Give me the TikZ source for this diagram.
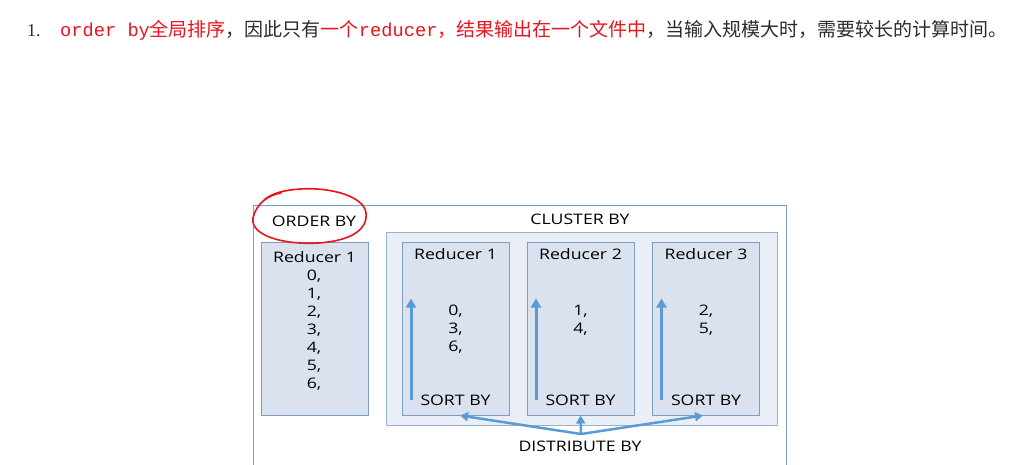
\documentclass[tikz,border=0pt]{standalone}
\usepackage{fontspec}
\newfontfamily\cjk{Noto Sans CJK SC}
\newfontfamily\mono{Liberation Mono}
\newfontfamily\serif{Liberation Serif}
\newfontfamily\diag[FakeStretch=1.22]{Open Sans}
\usetikzlibrary{arrows.meta}

\definecolor{boxline}{HTML}{7E9CC6}
\definecolor{boxfill}{HTML}{DAE2F0}
\definecolor{clusterfill}{HTML}{E9EEF7}
\definecolor{arrowblue}{HTML}{5B9BD5}
\definecolor{markred}{HTML}{E8141B}
\definecolor{inkgray}{HTML}{2B2B2B}

\tikzset{
  lab/.style={font=\diag\fontsize{14.5}{17}\selectfont, text=black, inner sep=0pt},
  reducerbox/.style={draw=boxline, fill=boxfill, line width=1pt,
    minimum width=107pt, minimum height=173pt, inner sep=0pt},
  clusterbox/.style={draw=boxline!80, fill=clusterfill, line width=1pt,
    minimum width=391pt, minimum height=193pt, inner sep=0pt},
  outerbox/.style={draw=boxline, line width=1pt,
    minimum width=533pt, minimum height=275pt, inner sep=0pt},
  sortarrow/.style={->, >={Triangle[length=9pt,width=10pt]}, arrowblue, line width=3pt},
  distarrow/.style={->, >={Triangle[length=8pt,width=9pt]}, arrowblue, line width=2.5pt}
}

\begin{document}
\begin{tikzpicture}[x=1pt,y=-1pt]
  \useasboundingbox (0,0) rectangle (1020,464);
  \clip (0,0) rectangle (1020,464);

  % heading line
  \node[anchor=base west, inner sep=0pt, text=inkgray,
    font=\serif\fontsize{18}{22}\selectfont] (num) at (27,36) {1.};
  \node[anchor=base west, inner sep=0pt, text=inkgray,
    font=\cjk\fontsize{19}{22}\selectfont] (line) at (60,36)
    {{\color{markred}{\mono\fontsize{18.7}{22}\selectfont order by}全局排序}，因此只有{\color{markred}一个{\mono\fontsize{18.7}{22}\selectfont reducer}，结果输出在一个文件中}，当输入规模大时，需要较长的计算时间。};

  % boxes
  \node[outerbox] (all) at (519.5,342.5) {};
  \node[clusterbox] (cluster) at (581.5,328.5) {};
  \node[reducerbox] (order) at (314.5,328.5) {};
  \node[reducerbox] (r1) at (455.5,328.5) {};
  \node[reducerbox] (r2) at (580.5,328.5) {};
  \node[reducerbox] (r3) at (706,328.5) {};

  % ORDER BY
  \node[lab] (ordertitle) at (314,221) {ORDER BY};
  \draw[markred, line width=1.6pt, line cap=round]
    (281,193) .. controls (268,195) and (256,204) .. (253,218)
    .. controls (250,236) and (285,245) .. (318,243)
    .. controls (350,241) and (368,230) .. (366,213)
    .. controls (364,196) and (330,187) .. (300,189)
    .. controls (285,190) and (272,193) .. (264,200);
  \node[lab] (ordername) at (314.5,257) {Reducer 1};
  \foreach \v [count=\i] in {0,...,6}
    \node[lab] (o\v) at (314,258+18*\i) {\v,};

  % CLUSTER BY
  \node[lab] (clustertitle) at (580,219) {CLUSTER BY};
  \foreach \r/\n/\vals in {r1/1/{0,3,6}, r2/2/{1,4}, r3/3/{2,5}} {
    \node[lab] (\r name) at ([yshift=-13pt]\r.north) {Reducer \n};
    \node[lab] (\r sort) at ([yshift=15pt]\r.south) {SORT BY};
    \foreach \v [count=\i] in \vals
      \node[lab] (\r v\v) at ([yshift=-52pt-18pt*\i]\r.north) {\v,};
    \coordinate (\r foot) at ([xshift=9.5pt,yshift=16pt]\r.south west);
    \coordinate (\r tip) at ([xshift=9.5pt,yshift=-57pt]\r.north west);
    \draw[sortarrow] (\r foot) -- (\r tip);
  }

  % DISTRIBUTE BY
  \node[lab] (dist) at (580,446) {DISTRIBUTE BY};
  \coordinate (fork) at (581,434);
  \draw[distarrow] (fork) -- (r2.south);
  \draw[distarrow] (fork) -- ([xshift=4.5pt]r1.south);
  \draw[distarrow] (fork) -- ([xshift=-3pt]r3.south);
\end{tikzpicture}
\end{document}
